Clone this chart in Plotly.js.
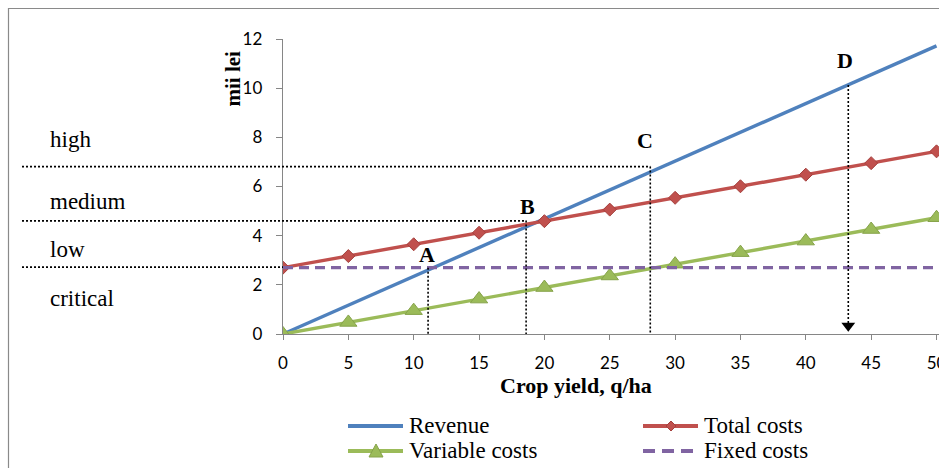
<!DOCTYPE html>
<html>
<head>
<meta charset="utf-8">
<script src="https://cdn.plot.ly/plotly-3.0.1.min.js"></script>
<style>html,body{margin:0;padding:0;background:#fff;}#chart{width:939px;height:468px;}</style>
</head>
<body>
<div id="chart"></div>
<script>
// ---- data ----
const cropYield = [0, 5, 10, 15, 20, 25, 30, 35, 40, 45, 50];
const revenue = [0, 1.17, 2.34, 3.51, 4.69, 5.86, 7.03, 8.20, 9.37, 10.54, 11.72];
const totalCosts = [2.70, 3.17, 3.65, 4.12, 4.59, 5.06, 5.54, 6.01, 6.48, 6.95, 7.43];
const variableCosts = [0, 0.47, 0.95, 1.42, 1.89, 2.36, 2.84, 3.31, 3.78, 4.25, 4.73];
const fixedCosts = [2.70, 2.70, 2.70, 2.70, 2.70, 2.70, 2.70, 2.70, 2.70, 2.70, 2.70];
const seriesNames = ['Revenue', 'Total costs', 'Variable costs', 'Fixed costs'];

// marked points A-D (x on crop yield axis, y where the guide line starts)
const pointNames = ['A', 'B', 'C', 'D'];
const pointX = [11.1, 18.6, 28.1, 43.25];
const pointTop = [2.70, 4.62, 6.81, 10.13];
const labelX = [11.0, 18.7, 27.7, 43.0];
const labelY = [3.24, 5.19, 7.89, 11.13];
const arrowX = [43.25];
const arrowY = [0.34];

// profitability levels on the left
const levelNames = ['high', 'medium', 'low', 'critical'];
const levelLabelY = [7.9, 5.4, 3.45, 1.45];
const levelLineY = [6.81, 4.60, 2.72];
const levelLineEndX = [28.1, 18.6, 0];

const xTicks = [0, 5, 10, 15, 20, 25, 30, 35, 40, 45, 50];
const yTicks = [0, 2, 4, 6, 8, 10, 12];

// ---- layout helpers ----
const W = 939, H = 468;
const M = {l: 283, r: 0, t: 39, b: 134};
const xRange = [0, 50.19], yRange = [0, 12];
const pw = W - M.l - M.r, ph = H - M.t - M.b;
const pxX = p => (p - M.l) / pw;            // pixel -> paper x
const pxY = p => (H - M.b - p) / ph;        // pixel -> paper y
const dX = x => (x - xRange[0]) / (xRange[1] - xRange[0]);
const dY = y => (y - yRange[0]) / (yRange[1] - yRange[0]);
const pathPx = pts => 'M' + pts.map(p => pxX(p[0]) + ',' + pxY(p[1])).join(' L') + ' Z';

const C = {rev: '#4F81BD', tot: '#C0504D', vari: '#9BBB59', fix: '#8064A2', axis: '#868686'};
const seriesColors = [C.rev, C.tot, C.vari, C.fix];

const traces = [
  {x: cropYield, y: revenue, name: seriesNames[0], type: 'scatter', mode: 'lines',
   line: {color: C.rev, width: 3.4}},
  {x: cropYield, y: totalCosts, name: seriesNames[1], type: 'scatter', mode: 'lines+markers',
   line: {color: C.tot, width: 3.4},
   marker: {symbol: 'diamond', size: 10, color: C.tot, line: {color: '#A5403D', width: 1}}},
  {x: cropYield, y: variableCosts, name: seriesNames[2], type: 'scatter', mode: 'lines+markers',
   line: {color: C.vari, width: 3.4},
   marker: {symbol: 'triangle-up', size: 15, color: C.vari, line: {color: '#86A34A', width: 1}}},
  {x: cropYield, y: fixedCosts, name: seriesNames[3], type: 'scatter', mode: 'lines',
   line: {color: C.fix, width: 3.4, dash: '10px,6px'}},
  {x: arrowX, y: arrowY, type: 'scatter', mode: 'markers', showlegend: false, hoverinfo: 'skip',
   marker: {symbol: 'triangle-down', size: 12, color: '#000'}, cliponaxis: false}
];

const shapes = [];
// outer frame
shapes.push({type: 'rect', xref: 'paper', yref: 'paper', x0: pxX(8.5), x1: pxX(1000), y0: pxY(8.5), y1: pxY(520),
  line: {color: '#8a8a8a', width: 1.2}, fillcolor: 'rgba(0,0,0,0)', layer: 'below'});
// vertical guides
for (let i = 0; i < pointX.length; i++) {
  shapes.push({type: 'line', xref: 'x', yref: 'y', x0: pointX[i], x1: pointX[i], y0: pointTop[i], y1: i === 3 ? arrowY[0] : 0,
    line: {color: '#000', width: 1.6, dash: '2px,2px'}});
}
// horizontal level boundaries
for (let i = 0; i < levelLineY.length; i++) {
  shapes.push({type: 'line', xref: 'paper', yref: 'paper', x0: pxX(22), x1: dX(levelLineEndX[i]),
    y0: dY(levelLineY[i]), y1: dY(levelLineY[i]),
    line: {color: '#000', width: 1.6, dash: '2px,2px'}});
}

// ---- manual legend (two columns) ----
const legCol = [348, 643];       // line sample start (px)
const legRow = [426, 451];       // row centre (px)
const legOrder = [[0, 0], [1, 0], [0, 1], [1, 1]]; // [col,row] for each series
const annotations = [];
const serif = 'Liberation Serif, Times New Roman, serif';
for (let i = 0; i < seriesNames.length; i++) {
  const cx = legCol[legOrder[i][0]], cy = legRow[legOrder[i][1]];
  shapes.push({type: 'line', xref: 'paper', yref: 'paper', x0: pxX(cx), x1: pxX(cx + 55), y0: pxY(cy), y1: pxY(cy),
    line: {color: seriesColors[i], width: 4, dash: i === 3 ? '12px,7px' : 'solid'}});
  annotations.push({x: pxX(cx + 59), y: pxY(cy - 0.5), xref: 'paper', yref: 'paper', xanchor: 'left', yanchor: 'middle',
    text: seriesNames[i], showarrow: false, font: {family: serif, size: 23, color: '#000'}});
}
// legend markers: diamond on Total costs, triangle on Variable costs
{
  const dx = legCol[1] + 28, dy = legRow[0];
  shapes.push({type: 'path', xref: 'paper', yref: 'paper', path: pathPx([[dx - 5, dy], [dx, dy - 5], [dx + 5, dy], [dx, dy + 5]]),
    fillcolor: C.tot, line: {color: '#A5403D', width: 1}});
  const tx = legCol[0] + 28, ty = legRow[1];
  shapes.push({type: 'path', xref: 'paper', yref: 'paper', path: pathPx([[tx - 7, ty + 6], [tx + 7, ty + 6], [tx, ty - 7]]),
    fillcolor: C.vari, line: {color: '#86A34A', width: 1}});
}

for (let i = 0; i < pointNames.length; i++) {
  annotations.push({x: labelX[i], y: labelY[i], xref: 'x', yref: 'y', xanchor: 'center', yanchor: 'middle',
    text: pointNames[i], showarrow: false, font: {family: serif, size: 22, color: '#000', weight: 'bold'}});
}
for (let i = 0; i < levelNames.length; i++) {
  annotations.push({x: pxX(48), y: dY(levelLabelY[i]), xref: 'paper', yref: 'paper', xanchor: 'left', yanchor: 'middle',
    text: levelNames[i], showarrow: false, font: {family: serif, size: 23, color: '#000'}});
}
annotations.push({x: pxX(576), y: pxY(386), xref: 'paper', yref: 'paper', xanchor: 'center', yanchor: 'middle',
  text: 'Crop yield, q/ha', showarrow: false, font: {family: serif, size: 22, color: '#000', weight: 'bold'}});
annotations.push({x: pxX(232), y: pxY(78.5), xref: 'paper', yref: 'paper', xanchor: 'center', yanchor: 'middle',
  text: 'mii lei', textangle: -90, showarrow: false, font: {family: serif, size: 21, color: '#000', weight: 'bold'}});

const tickFont = {family: 'Lato, Liberation Sans, sans-serif', size: 17, color: '#000'};
const layout = {
  width: W, height: H,
  margin: {l: M.l, r: M.r, t: M.t, b: M.b, autoexpand: false},
  paper_bgcolor: '#fff', plot_bgcolor: '#fff',
  showlegend: false,
  xaxis: {range: xRange, tickvals: xTicks, ticktext: xTicks.map(String), showgrid: false, zeroline: false,
    showline: true, linecolor: C.axis, linewidth: 1.3, ticks: 'outside', ticklen: 5, tickcolor: C.axis,
    tickfont: tickFont, ticklabelstandoff: 8, ticklabeloverflow: 'allow', fixedrange: true},
  yaxis: {range: yRange, tickvals: yTicks, ticktext: yTicks.map(String), showgrid: false, zeroline: false,
    showline: true, linecolor: C.axis, linewidth: 1.3, ticks: 'outside', ticklen: 6, tickcolor: C.axis,
    tickfont: tickFont, ticklabelstandoff: 10, fixedrange: true},
  shapes: shapes,
  annotations: annotations
};

Plotly.newPlot('chart', traces, layout, {displayModeBar: false, staticPlot: true});
</script>
</body>
</html>
